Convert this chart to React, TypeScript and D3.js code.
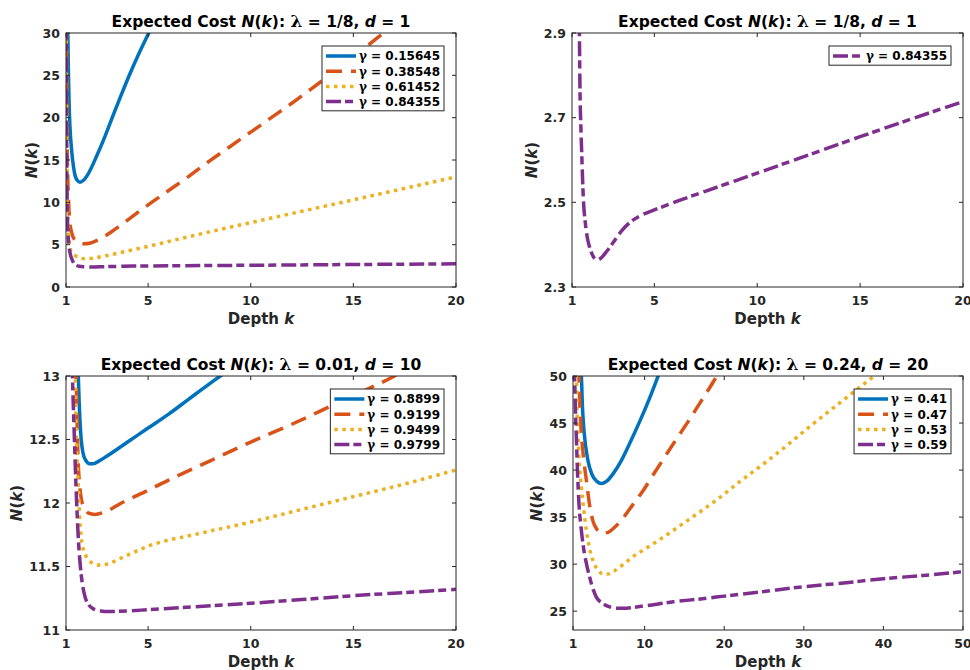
import * as d3 from "d3";
import { useEffect, useRef } from "react";

// points: [k, N(k)]
// lambda = 1/8, d = 1
const curveA1 = [[1.07, 31], [1.09, 30], [1.12, 25], [1.16, 21], [1.19, 19.1], [1.28, 16.0], [1.36, 14.3], [1.44, 13.2], [1.55, 12.6], [1.68, 12.37], [1.85, 12.6], [2.09, 13.4], [2.5, 15.5], [2.9, 17.8], [3.3, 20.3], [3.71, 22.8], [4.1, 25.1], [4.52, 27.4], [5.09, 30.3], [5.3, 31.4]];
const curveA2 = [[1.02, 31], [1.04, 22], [1.07, 15], [1.12, 10.5], [1.19, 7.6], [1.3, 6.2], [1.45, 5.5], [1.65, 5.2], [1.9, 5.1], [2.2, 5.2], [2.6, 5.6], [3.2, 6.5], [4, 7.9], [5, 9.7], [6, 11.4], [7, 13.1], [8, 14.9], [9, 16.6], [10, 18.3], [11, 20.0], [12, 21.7], [13, 23.5], [14, 25.3], [15, 27.2], [16, 29.1], [17, 31]];
const curveA3 = [[1.015, 31], [1.035, 18], [1.07, 10], [1.11, 7.3], [1.19, 4.6], [1.3, 4.0], [1.44, 3.72], [1.65, 3.45], [1.93, 3.33], [2.3, 3.4], [3, 3.72], [4, 4.25], [5, 4.8], [7, 5.95], [10, 7.6], [12.5, 8.95], [15, 10.3], [17.5, 11.65], [20, 13.0]];
const curveA4 = [[1.01, 31], [1.03, 18], [1.06, 9.5], [1.1, 6.2], [1.15, 4.8], [1.2, 4.0], [1.26, 3.45], [1.32, 3.1], [1.36, 2.9], [1.39, 2.76], [1.43, 2.68], [1.47, 2.62], [1.55, 2.51], [1.65, 2.45], [1.75, 2.415], [1.87, 2.392], [2.0, 2.375], [2.2, 2.364], [2.4, 2.368], [2.7, 2.385], [3.0, 2.405], [3.4, 2.432], [3.8, 2.452], [4.3, 2.468], [5.0, 2.482], [6.25, 2.505], [8, 2.535], [10, 2.569], [12.5, 2.612], [15, 2.655], [17.5, 2.697], [20, 2.738]];

// lambda = 0.01, d = 10
const curveC1 = [[1.58, 13.1], [1.61, 12.95], [1.64, 12.8], [1.68, 12.65], [1.74, 12.5], [1.82, 12.4], [1.95, 12.34], [2.15, 12.31], [2.33, 12.31], [2.6, 12.33], [3, 12.37], [4, 12.48], [5, 12.59], [6, 12.7], [7, 12.82], [8, 12.94], [8.6, 13.01]];
const curveC2 = [[1.48, 13.1], [1.52, 12.8], [1.56, 12.5], [1.6, 12.3], [1.66, 12.15], [1.75, 12.03], [1.9, 11.96], [2.1, 11.92], [2.4, 11.91], [2.9, 11.93], [3.7, 12.0], [5, 12.1], [6, 12.18], [8, 12.33], [10, 12.48], [12, 12.62], [14, 12.77], [16, 12.92], [17, 13.0], [17.5, 13.05]];
const curveC3 = [[1.44, 13.1], [1.47, 12.8], [1.5, 12.55], [1.55, 12.3], [1.6, 12.13], [1.66, 11.9], [1.72, 11.76], [1.82, 11.65], [1.95, 11.59], [2.1, 11.55], [2.4, 11.52], [2.7, 11.51], [3, 11.52], [4, 11.59], [5, 11.66], [7.5, 11.76], [10, 11.85], [12.5, 11.95], [15, 12.05], [17.5, 12.15], [20, 12.26]];
const curveC4 = [[1.3, 13.1], [1.33, 12.9], [1.37, 12.7], [1.41, 12.5], [1.46, 12.25], [1.52, 12.0], [1.6, 11.72], [1.7, 11.5], [1.8, 11.36], [1.93, 11.26], [2.1, 11.2], [2.3, 11.17], [2.7, 11.15], [3, 11.145], [4, 11.15], [5, 11.16], [7.5, 11.185], [10, 11.21], [12.5, 11.24], [15, 11.27], [17.5, 11.295], [20, 11.32]];

// lambda = 0.24, d = 20
const curveD1 = [[1.95, 51], [2.05, 50], [2.2, 46.5], [2.4, 44], [2.88, 41.0], [3.4, 39.5], [4, 38.8], [4.56, 38.57], [5.2, 38.8], [6.03, 39.6], [7, 40.9], [8.1, 42.8], [9.4, 45.2], [10.6, 47.6], [11.7, 50], [12.2, 51.1]];
const curveD2 = [[1.7, 51], [1.75, 50], [1.85, 47], [2.0, 44.5], [2.3, 41.5], [2.7, 38.8], [3.1, 36.2], [3.5, 34.6], [4, 33.7], [4.6, 33.3], [5.3, 33.35], [6.2, 33.9], [7.1, 34.7], [8.5, 36.3], [9.8, 37.8], [11, 39.4], [12.3, 41.1], [14, 43.3], [15.5, 45.2], [17, 47.2], [18.5, 49.2], [19.2, 50.2]];
const curveD3 = [[1.38, 51], [1.42, 50], [1.5, 46.5], [1.63, 43.5], [1.8, 40.8], [2.05, 38.2], [2.35, 35.8], [2.67, 33.6], [3.05, 31.8], [3.5, 30.4], [4.1, 29.4], [4.77, 28.97], [5.4, 28.95], [6.03, 29.2], [7.2, 29.9], [8.54, 30.8], [10.6, 31.9], [13.1, 33.3], [16, 35.0], [19, 36.8], [22, 38.8], [25, 40.7], [28, 42.7], [31, 44.8], [34, 46.8], [37, 48.8], [39, 50.1], [40, 50.8]];
const curveD4 = [[1.17, 51], [1.2, 50], [1.3, 46.5], [1.42, 43.5], [1.58, 39.5], [1.75, 36.4], [2.0, 34], [2.26, 32.1], [2.65, 30.2], [3.1, 28.6], [3.5, 27.4], [3.93, 26.5], [4.6, 25.9], [5.6, 25.45], [6.5, 25.3], [7.5, 25.3], [8.5, 25.4], [10.3, 25.6], [13.6, 26.0], [17, 26.3], [20, 26.6], [25, 27.1], [30, 27.6], [35, 28.0], [40, 28.45], [45, 28.8], [50, 29.2]];

const gammasA = ["0.15645", "0.38548", "0.61452", "0.84355"];
const gammasB = ["0.84355"];
const gammasC = ["0.8899", "0.9199", "0.9499", "0.9799"];
const gammasD = ["0.41", "0.47", "0.53", "0.59"];

const ticksX20 = [1, 5, 10, 15, 20];
const ticksX50 = [1, 10, 20, 30, 40, 50];
const ticksYA = [0, 5, 10, 15, 20, 25, 30];
const ticksYB = [2.3, 2.5, 2.7, 2.9];
const ticksYC = [11, 11.5, 12, 12.5, 13];
const ticksYD = [25, 30, 35, 40, 45, 50];

// matlab colour order + line styles
const styles = [
    { color: "#0072BD", dash: null },
    { color: "#D95319", dash: "16,9" },
    { color: "#EDB120", dash: "3.5,4.5" },
    { color: "#7E2F8E", dash: "15,4,8,5" },
];

const panels = [
    { left: 66, right: 456, top: 33, bottom: 287, xDomain: [1, 20], yDomain: [0, 30], xTicks: ticksX20, yTicks: ticksYA,
      lambda: "1/8", d: "1", curves: [curveA1, curveA2, curveA3, curveA4], styleIdx: [0, 1, 2, 3], gammas: gammasA, ylabX: 32 },
    { left: 572, right: 963, top: 33, bottom: 287, xDomain: [1, 20], yDomain: [2.3, 2.9], xTicks: ticksX20, yTicks: ticksYB,
      lambda: "1/8", d: "1", curves: [curveA4], styleIdx: [3], gammas: gammasB, ylabX: 532 },
    { left: 66, right: 456, top: 376, bottom: 630, xDomain: [1, 20], yDomain: [11, 13], xTicks: ticksX20, yTicks: ticksYC,
      lambda: "0.01", d: "10", curves: [curveC1, curveC2, curveC3, curveC4], styleIdx: [0, 1, 2, 3], gammas: gammasC, ylabX: 17 },
    { left: 573, right: 963, top: 376, bottom: 630, xDomain: [1, 50], yDomain: [23, 50], xTicks: ticksX50, yTicks: ticksYD,
      lambda: "0.24", d: "20", curves: [curveD1, curveD2, curveD3, curveD4], styleIdx: [0, 1, 2, 3], gammas: gammasD, ylabX: 537 },
];

const SANS = "'DejaVu Sans', sans-serif";
const SERIF = "'DejaVu Serif', serif";
const AX = "#262626";

const App = () => {
    const ref = useRef(null);

    useEffect(() => {
        const svg = d3.select(ref.current);
        svg.selectAll("*").remove();
        const defs = svg.append("defs");

        panels.forEach((p, pi) => {
            const x = d3.scaleLinear().domain(p.xDomain).range([p.left, p.right]);
            const y = d3.scaleLinear().domain(p.yDomain).range([p.bottom, p.top]);
            const g = svg.append("g");

            defs.append("clipPath").attr("id", "clip" + pi)
                .append("rect")
                .attr("x", p.left).attr("y", p.top)
                .attr("width", p.right - p.left).attr("height", p.bottom - p.top);

            // кривые
            const line = d3.line().x(d => x(d[0])).y(d => y(d[1])).curve(d3.curveMonotoneX);
            p.curves.forEach((c, ci) => {
                const st = styles[p.styleIdx[ci]];
                g.append("path")
                    .attr("d", line(c))
                    .attr("clip-path", `url(#clip${pi})`)
                    .attr("fill", "none")
                    .attr("stroke", st.color)
                    .attr("stroke-width", 3.5)
                    .attr("stroke-linejoin", "round")
                    .attr("stroke-dasharray", st.dash);
            });

            // рамка и тики
            g.append("rect")
                .attr("x", p.left).attr("y", p.top)
                .attr("width", p.right - p.left).attr("height", p.bottom - p.top)
                .attr("fill", "none").attr("stroke", AX).attr("stroke-width", 1);

            p.xTicks.forEach(t => {
                const xp = x(t);
                g.append("line").attr("x1", xp).attr("x2", xp).attr("y1", p.bottom).attr("y2", p.bottom - 4).attr("stroke", AX);
                g.append("line").attr("x1", xp).attr("x2", xp).attr("y1", p.top).attr("y2", p.top + 4).attr("stroke", AX);
                g.append("text").attr("x", xp).attr("y", p.bottom + 18)
                    .attr("text-anchor", "middle")
                    .attr("font-family", SANS).attr("font-weight", "bold").attr("font-size", 12.5)
                    .attr("fill", AX).text(t);
            });
            p.yTicks.forEach(t => {
                const yp = y(t);
                g.append("line").attr("x1", p.left).attr("x2", p.left + 4).attr("y1", yp).attr("y2", yp).attr("stroke", AX);
                g.append("line").attr("x1", p.right).attr("x2", p.right - 4).attr("y1", yp).attr("y2", yp).attr("stroke", AX);
                g.append("text").attr("x", p.left - 6).attr("y", yp).attr("dy", "0.36em")
                    .attr("text-anchor", "end")
                    .attr("font-family", SANS).attr("font-weight", "bold").attr("font-size", 12.5)
                    .attr("fill", AX).text(t);
            });

            // заголовок
            const title = g.append("text")
                .attr("x", (p.left + p.right) / 2).attr("y", p.top - 6)
                .attr("text-anchor", "middle")
                .attr("font-family", SANS).attr("font-weight", "bold").attr("font-size", 15.5)
                .attr("fill", "#000");
            title.append("tspan").text("Expected Cost ");
            title.append("tspan").attr("font-style", "italic").text("N");
            title.append("tspan").text("(");
            title.append("tspan").attr("font-style", "italic").text("k");
            title.append("tspan").text("): ");
            title.append("tspan").attr("font-family", SERIF).attr("font-size", 17).text("λ");
            title.append("tspan").text(` = ${p.lambda}, `);
            title.append("tspan").attr("font-style", "italic").text("d");
            title.append("tspan").text(` = ${p.d}`);

            // подписи осей
            const xl = g.append("text")
                .attr("x", (p.left + p.right) / 2).attr("y", p.bottom + 37)
                .attr("text-anchor", "middle")
                .attr("font-family", SANS).attr("font-weight", "bold").attr("font-size", 15)
                .attr("fill", AX);
            xl.append("tspan").text("Depth ");
            xl.append("tspan").attr("font-style", "italic").text("k");

            const ymid = (p.top + p.bottom) / 2;
            const yl = g.append("text")
                .attr("transform", `translate(${p.ylabX},${ymid}) rotate(-90)`)
                .attr("dy", "0.36em")
                .attr("text-anchor", "middle")
                .attr("font-family", SANS).attr("font-weight", "bold").attr("font-size", 15)
                .attr("fill", AX);
            yl.append("tspan").attr("font-style", "italic").text("N");
            yl.append("tspan").text("(");
            yl.append("tspan").attr("font-style", "italic").text("k");
            yl.append("tspan").text(")");

            // легенда
            const lg = g.append("g");
            const rowH = 15.2;
            let maxW = 0;
            const rows = p.gammas.map((gm, i) => {
                const t = lg.append("text")
                    .attr("y", 10 + rowH * i).attr("dy", "0.36em")
                    .attr("font-family", SANS).attr("font-weight", "bold").attr("font-size", 12)
                    .attr("fill", "#000");
                t.append("tspan").attr("font-family", SERIF).text("γ");
                t.append("tspan").text(" = " + gm);
                maxW = Math.max(maxW, t.node().getComputedTextLength());
                return t;
            });
            const boxW = 4 + 30 + 3 + maxW + 4;
            const boxH = rowH * p.gammas.length + 4;
            const bx = p.right - 12 - boxW;
            const by = p.top + 13;
            lg.attr("transform", `translate(${bx},${by})`);
            lg.insert("rect", ":first-child")
                .attr("x", 0).attr("y", 0).attr("width", boxW).attr("height", boxH)
                .attr("fill", "#fff").attr("stroke", AX).attr("stroke-width", 1);
            rows.forEach((t, i) => {
                const st = styles[p.styleIdx[i]];
                t.attr("x", 37);
                lg.append("line")
                    .attr("x1", 4).attr("x2", 34)
                    .attr("y1", 10 + rowH * i).attr("y2", 10 + rowH * i)
                    .attr("stroke", st.color).attr("stroke-width", 3.5)
                    .attr("stroke-dasharray", st.dash);
            });
        });
    }, []);

    return (
        <svg ref={ref} width={970} height={670}
             style={{ position: "absolute", left: 0, top: 0, background: "#fff" }}></svg>
    );
};

export default App;
